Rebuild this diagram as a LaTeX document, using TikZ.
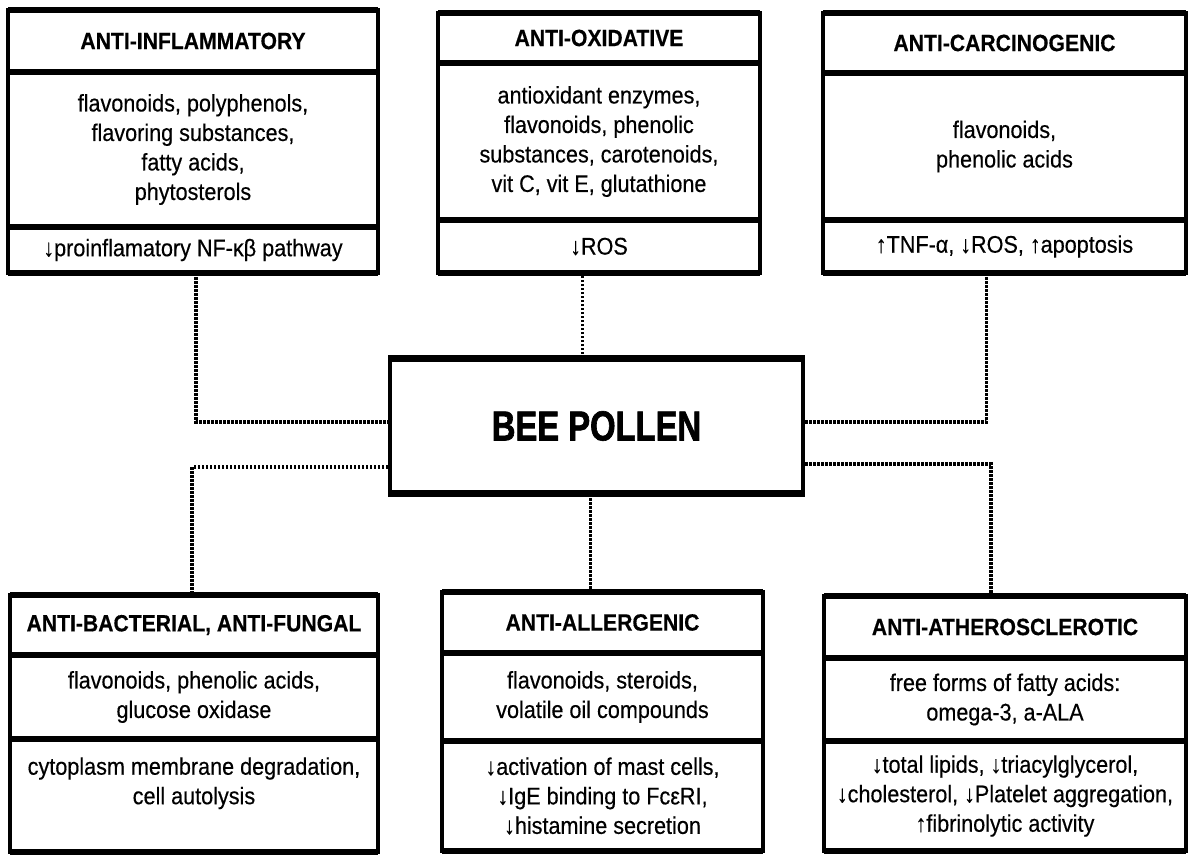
\documentclass[tikz,border=0pt]{standalone}
\usepackage{fontspec}
\setmainfont{Liberation Sans}[FakeStretch=0.9, FakeBold=0.4]
\newfontfamily\beefont[FakeStretch=0.78, FakeBold=1.5]{Liberation Sans Bold}
\usetikzlibrary{positioning}

\begin{document}
\begin{tikzpicture}[x=1pt, y=-1pt,
    sect/.style={draw, line width=4pt, inner sep=0pt, outer sep=0pt, align=center,
        font=\fontsize{24}{29.5}\selectfont},
    head/.style={sect, font=\bfseries\fontsize{23.5}{26}\selectfont},
    link/.style={line width=3.5pt, dash pattern=on 2.5pt off 1.5pt}]
    \useasboundingbox (0,0) rectangle (1188,854);

    % Top row
    \node[head, anchor=north west, minimum width=370pt, minimum height=62pt] (infl-h) at (8,10) {ANTI-INFLAMMATORY};
    \node[sect, below=0pt of infl-h, minimum width=370pt, minimum height=155pt] (infl-b) {flavonoids, polyphenols,\\flavoring substances,\\fatty acids,\\phytosterols};
    \node[sect, below=0pt of infl-b, minimum width=370pt, minimum height=46pt] (infl-e) {↓proinflamatory NF-κβ pathway};

    \node[head, anchor=north west, minimum width=322pt, minimum height=50pt] (oxid-h) at (438,13) {ANTI-OXIDATIVE};
    \node[sect, below=0pt of oxid-h, minimum width=322pt, minimum height=157pt] (oxid-b) {antioxidant enzymes,\\flavonoids, phenolic\\substances, carotenoids,\\vit C, vit E, glutathione};
    \node[sect, below=0pt of oxid-b, minimum width=322pt, minimum height=53pt] (oxid-e) {↓ROS};

    \node[head, anchor=north west, minimum width=363pt, minimum height=60pt] (carc-h) at (823,13) {ANTI-CARCINOGENIC};
    \node[sect, below=0pt of carc-h, minimum width=363pt, minimum height=147pt] (carc-b) {flavonoids,\\phenolic acids};
    \node[sect, below=0pt of carc-b, minimum width=363pt, minimum height=53pt] (carc-e) {↑TNF-α, ↓ROS, ↑apoptosis};

    % Centre
    \node[draw, line width=4pt, minimum width=413pt, minimum height=132pt,
        font=\beefont\fontsize{42}{42}\selectfont] (bp) at (596.5,426) {BEE POLLEN};

    % Bottom row
    \node[head, anchor=north west, minimum width=368pt, minimum height=60pt] (bact-h) at (10,595) {ANTI-BACTERIAL, ANTI-FUNGAL};
    \node[sect, below=0pt of bact-h, minimum width=368pt, minimum height=84pt] (bact-b) {flavonoids, phenolic acids,\\glucose oxidase};
    \node[sect, below=0pt of bact-b, minimum width=368pt, minimum height=113pt] (bact-e) {cytoplasm membrane degradation,\\cell autolysis\\\mbox{}};

    \node[head, anchor=north west, minimum width=321pt, minimum height=61pt] (alle-h) at (442,592) {ANTI-ALLERGENIC};
    \node[sect, below=0pt of alle-h, minimum width=321pt, minimum height=88pt] (alle-b) {flavonoids, steroids,\\volatile oil compounds};
    \node[sect, below=0pt of alle-b, minimum width=321pt, minimum height=110pt] (alle-e) {↓activation of mast cells,\\↓IgE binding to FcεRI,\\↓histamine secretion};

    \node[head, anchor=north west, minimum width=362pt, minimum height=62pt] (athe-h) at (824,596) {ANTI-ATHEROSCLEROTIC};
    \node[sect, below=0pt of athe-h, minimum width=362pt, minimum height=83pt] (athe-b) {free forms of fatty acids:\\omega-3, a-ALA};
    \node[sect, below=0pt of athe-b, minimum width=362pt, minimum height=110pt] (athe-e) {↓total lipids, ↓triacylglycerol,\\↓cholesterol, ↓Platelet aggregation,\\↑fibrinolytic activity};

    % Heavier horizontal rules
    \foreach \n in {infl-h,infl-b,infl-e,oxid-h,oxid-b,oxid-e,carc-h,carc-b,carc-e,
        bact-h,bact-b,bact-e,alle-h,alle-b,alle-e,athe-h,athe-b,athe-e,bp}
        \draw[line width=6pt] (\n.north west) -- (\n.north east) (\n.south west) -- (\n.south east);

    % Dotted links
    \draw[link] ([xshift=3pt]infl-e.south) |- ([yshift=4pt]bp.west);
    \draw[link] ([xshift=-14pt]bp.north) -- ([xshift=-14pt]bp.north |- oxid-e.south);
    \draw[link] ([xshift=-18pt]carc-e.south) |- ([yshift=4pt]bp.east);
    \draw[link] ([yshift=-41pt]bp.west) -| ([xshift=-2pt]bact-h.north);
    \draw[link] ([xshift=-6pt]bp.south) -- ([xshift=-6pt]bp.south |- alle-h.north);
    \draw[link] ([yshift=-38pt]bp.east) -| ([xshift=-14pt]athe-h.north);
\end{tikzpicture}
\end{document}
